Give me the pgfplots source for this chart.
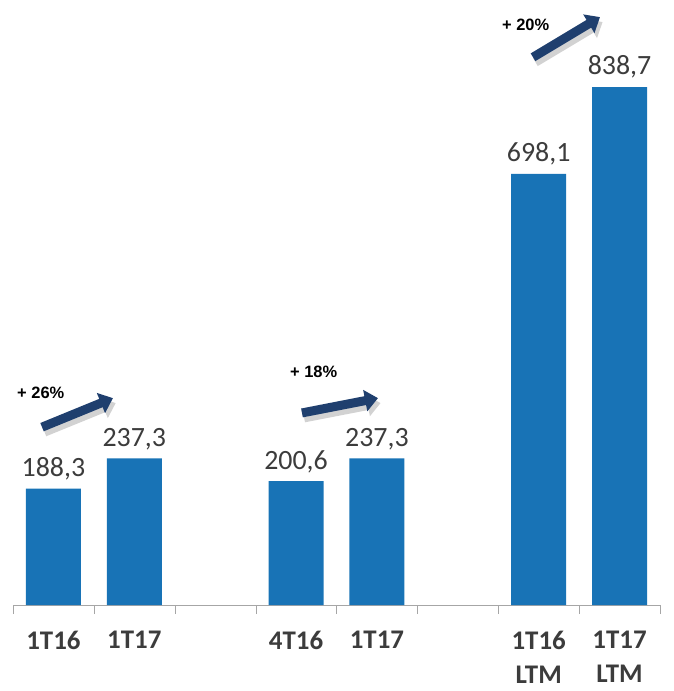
\documentclass[border=0pt]{standalone}
\usepackage{fontspec}
\setmainfont{Carlito}
\newfontfamily\arialfont{Liberation Sans}
\usepackage{pgfplots}
\pgfplotsset{compat=1.18}
\usetikzlibrary{arrows.meta}

\definecolor{barblue}{HTML}{1873B6}
\definecolor{lbl}{HTML}{3C3C3C}
\definecolor{navy}{HTML}{1F3F6E}

\begin{document}
\begin{tikzpicture}[x=1bp,y=1bp]
  \useasboundingbox (-13bp,-86bp) rectangle (661bp,605bp);
  \begin{axis}[
      scale only axis,
      width=647bp, height=555.8bp,
      xmin=-0.5, xmax=7.5,
      ymin=0, ymax=900,
      clip=false,
      axis x line*=bottom,
      axis y line=none,
      x axis line style={draw=gray!70, -},
      ybar, bar width=55bp,
      xtick={0,1,3,4,6,7},
      xticklabels={1T16,1T17,4T16,1T17,{1T16\\LTM},{1T17\\LTM}},
      major tick length=0pt,
      minor xtick={-0.5,0.5,1.5,2.5,3.5,4.5,5.5,6.5,7.5},
      minor tick length=9bp,
      tick align=outside,
      minor tick style={gray!70},
      x tick label style={font=\bfseries\fontsize{27}{34}\selectfont, text=lbl, align=center, yshift=-23bp},
      nodes near coords,
      nodes near coords style={font=\fontsize{28}{30}\selectfont, text=lbl, yshift=5bp},
      point meta=explicit symbolic,
    ]
    \addplot[fill=barblue, draw=none] coordinates {
      (0,188.3) [188,3]
      (1,237.3) [237,3]
      (3,200.6) [200,6]
      (4,237.3) [237,3]
      (6,698.1) [698,1]
      (7,838.7) [838,7]
    };

    % growth arrows
    \draw[gray!35, line width=9bp, -{Triangle[length=13bp,width=21bp]}]
      (axis cs:-0.11,280) -- (axis cs:0.77,327);
    \draw[navy, line width=9bp, -{Triangle[length=13bp,width=21bp]}]
      (axis cs:-0.141,288) -- (axis cs:0.736,335);
    \node[anchor=west, font=\arialfont\bfseries\fontsize{16.5}{17}\selectfont, inner sep=0pt]
      at (axis cs:-0.45,343) {+ 26\%};

    \draw[gray!35, line width=9bp, -{Triangle[length=13bp,width=21bp]}]
      (axis cs:3.10,303) -- (axis cs:4.045,327);
    \draw[navy, line width=9bp, -{Triangle[length=13bp,width=21bp]}]
      (axis cs:3.073,311) -- (axis cs:4.013,335);
    \node[anchor=west, font=\arialfont\bfseries\fontsize{16.5}{17}\selectfont, inner sep=0pt]
      at (axis cs:2.925,377) {+ 18\%};

    \draw[gray!35, line width=9bp, -{Triangle[length=13bp,width=21bp]}]
      (axis cs:5.96,879) -- (axis cs:6.79,944);
    \draw[navy, line width=9bp, -{Triangle[length=13bp,width=21bp]}]
      (axis cs:5.93,887) -- (axis cs:6.758,952);
    \node[anchor=west, font=\arialfont\bfseries\fontsize{16.5}{17}\selectfont, inner sep=0pt]
      at (axis cs:5.546,939) {+ 20\%};
  \end{axis}
\end{tikzpicture}
\end{document}
